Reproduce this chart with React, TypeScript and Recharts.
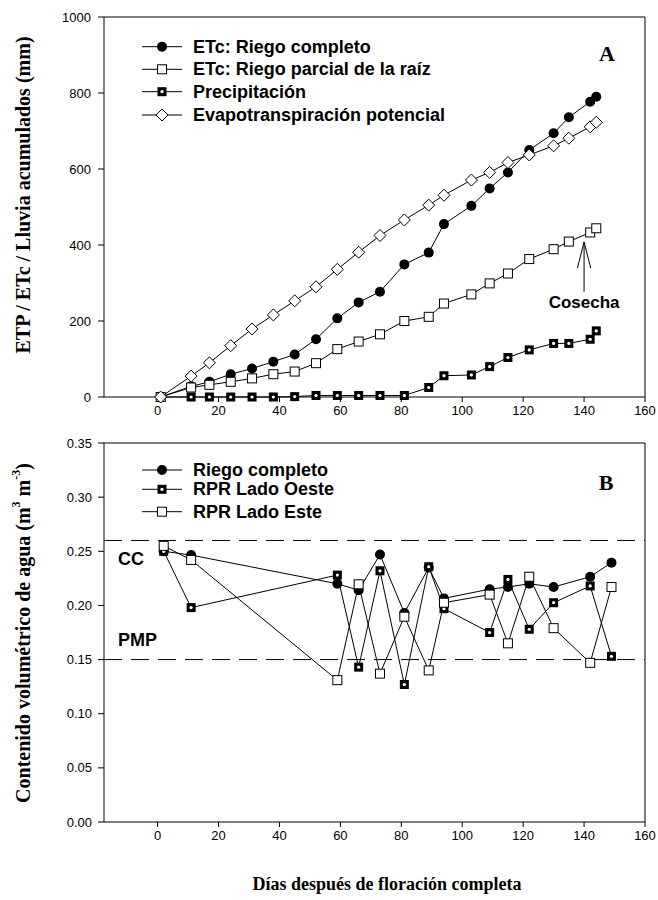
import React from 'react';
import { LineChart, Line, XAxis, YAxis, ReferenceLine, ReferenceDot } from 'recharts';

// Panel A: accumulated ETP / ETc / rain (mm)
const diasA = [1, 11, 17, 24, 31, 38, 45, 52, 59, 66, 73, 81, 89, 94, 103, 109, 115, 122, 130, 135, 142, 144];
const etcCompleto = [0, 28, 40, 60, 75, 93, 112, 152, 207, 249, 277, 349, 380, 455, 503, 549, 591, 650, 694, 736, 777, 790];
const etcParcial = [0, 25, 32, 40, 49, 60, 67, 89, 126, 146, 165, 200, 211, 246, 270, 299, 325, 363, 389, 409, 433, 444];
const precipitacion = [0, 0, 0, 0, 0, 0, 1, 4, 4, 4, 4, 4, 25, 56, 58, 80, 104, 124, 141, 141, 152, 174];
const etp = [0, 55, 90, 135, 179, 216, 253, 290, 336, 381, 425, 466, 505, 531, 571, 591, 617, 637, 661, 681, 711, 723];

// Panel B: soil water content (m3 m-3)
const diasB = [2, 11, 59, 66, 73, 81, 89, 94, 109, 115, 122, 130, 142, 149];
const riegoCompleto = [0.25, 0.2465, 0.22, 0.214, 0.247, 0.193, 0.235, 0.2065, 0.215, 0.217, 0.22, 0.217, 0.2265, 0.2395];
const rprOeste = [0.25, 0.198, 0.228, 0.143, 0.232, 0.127, 0.2357, 0.197, 0.175, 0.224, 0.178, 0.2025, 0.218, 0.153];
const rprEste = [0.255, 0.242, 0.131, 0.2195, 0.137, 0.1896, 0.14, 0.2025, 0.21, 0.165, 0.2265, 0.179, 0.147, 0.217];

const ticksX = [0, 20, 40, 60, 80, 100, 120, 140, 160];
const ticksA = [0, 200, 400, 600, 800, 1000];
const ticksB = [0, 0.05, 0.1, 0.15, 0.2, 0.25, 0.3, 0.35];
const CC = 0.26;
const PMP = 0.15;

const SANS = '"Liberation Sans", Arial, sans-serif';
const SERIF = '"Liberation Serif", "Times New Roman", serif';
const X_DOMAIN = [-17.6, 160];

const dataA = diasA.map((d, i) => ({
  dia: d,
  completo: etcCompleto[i],
  parcial: etcParcial[i],
  precip: precipitacion[i],
  etp: etp[i],
}));

const dataB = diasB.map((d, i) => ({
  dia: d,
  completo: riegoCompleto[i],
  oeste: rprOeste[i],
  este: rprEste[i],
}));

// marker shapes
const circleM = (cx: number, cy: number, k?: any) => <circle key={k} cx={cx} cy={cy} r={5} fill="#000" />;
const squareM = (cx: number, cy: number, k?: any) => (
  <rect key={k} x={cx - 4.5} y={cy - 4.5} width={9} height={9} fill="#fff" stroke="#000" strokeWidth={1} />
);
const diamondM = (cx: number, cy: number, k?: any) => (
  <path key={k} d={`M${cx},${cy - 6}L${cx + 6},${cy}L${cx},${cy + 6}L${cx - 6},${cy}Z`} fill="#fff" stroke="#000" strokeWidth={1} />
);
const rainM = (cx: number, cy: number, k?: any) => (
  <g key={k}>
    <rect x={cx - 4.5} y={cy - 4.5} width={9} height={9} fill="#000" />
    <circle cx={cx} cy={cy} r={1.6} fill="#fff" />
  </g>
);

const dotFn = (m: typeof circleM) => (p: any) => m(p.cx, p.cy, `${p.dataKey}-${p.index}`);

const tickStyle = { fontFamily: SANS, fontSize: 13, fill: '#000' };
const axisLine = { stroke: '#000', strokeWidth: 1 };

const LegendRow = ({ y, marker, label }: { y: number; marker: typeof circleM; label: string }) => (
  <g>
    <line x1={142} x2={182} y1={y} y2={y} stroke="#000" strokeWidth={1} />
    {marker(162, y)}
    <text x={193} y={y} dominantBaseline="central" fontFamily={SANS} fontWeight="bold" fontSize={18} fill="#000">
      {label}
    </text>
  </g>
);

const App: React.FC = () => {
  return (
    <div style={{ position: 'absolute', left: 0, top: 0, width: 658, height: 900, background: '#fff' }}>
      {/* Panel A */}
      <div style={{ position: 'absolute', left: 0, top: 0 }}>
        <LineChart width={658} height={430} data={dataA} margin={{ top: 17, right: 13, left: 0, bottom: 0 }}>
          <XAxis
            dataKey="dia"
            type="number"
            domain={X_DOMAIN}
            ticks={ticksX}
            allowDataOverflow
            height={33}
            tickSize={5}
            tickMargin={4}
            tick={tickStyle}
            axisLine={axisLine}
            tickLine={axisLine}
          />
          <YAxis
            type="number"
            domain={[0, 1000]}
            ticks={ticksA}
            width={104}
            tickSize={6}
            tickMargin={7}
            tick={tickStyle}
            axisLine={axisLine}
            tickLine={axisLine}
          />
          <ReferenceLine y={1000} stroke="#000" />
          <ReferenceLine x={160} stroke="#000" />
          <Line dataKey="precip" stroke="#000" strokeWidth={1} dot={dotFn(rainM)} activeDot={false} isAnimationActive={false} />
          <Line dataKey="completo" stroke="#000" strokeWidth={1} dot={dotFn(circleM)} activeDot={false} isAnimationActive={false} />
          <Line dataKey="parcial" stroke="#000" strokeWidth={1} dot={dotFn(squareM)} activeDot={false} isAnimationActive={false} />
          <Line dataKey="etp" stroke="#000" strokeWidth={1} dot={dotFn(diamondM)} activeDot={false} isAnimationActive={false} />
          {/* harvest arrow */}
          <ReferenceLine segment={[{ x: 140, y: 277 }, { x: 140, y: 408 }]} stroke="#000" />
          <ReferenceLine segment={[{ x: 137.8, y: 339 }, { x: 140, y: 408 }]} stroke="#000" />
          <ReferenceLine segment={[{ x: 142.2, y: 339 }, { x: 140, y: 408 }]} stroke="#000" />
          <ReferenceDot
            x={140}
            y={250}
            r={0}
            shape={(p: any) => (
              <text x={p.cx} y={p.cy} textAnchor="middle" dominantBaseline="central" fontFamily={SANS} fontWeight="bold" fontSize={17} fill="#000">
                Cosecha
              </text>
            )}
          />
        </LineChart>
      </div>

      {/* Panel B */}
      <div style={{ position: 'absolute', left: 0, top: 426 }}>
        <LineChart width={658} height={474} data={dataB} margin={{ top: 17, right: 13, left: 0, bottom: 0 }}>
          <XAxis
            dataKey="dia"
            type="number"
            domain={X_DOMAIN}
            ticks={ticksX}
            allowDataOverflow
            height={78}
            tickSize={5}
            tickMargin={4}
            tick={tickStyle}
            axisLine={axisLine}
            tickLine={axisLine}
          />
          <YAxis
            type="number"
            domain={[0, 0.35]}
            ticks={ticksB}
            width={104}
            tickSize={6}
            tickMargin={6}
            tick={tickStyle}
            tickFormatter={(v: number) => v.toFixed(2)}
            axisLine={axisLine}
            tickLine={axisLine}
          />
          <ReferenceLine y={0.35} stroke="#000" />
          <ReferenceLine x={160} stroke="#000" />
          <ReferenceLine y={CC} stroke="#000" strokeDasharray="18 9" />
          <ReferenceLine y={PMP} stroke="#000" strokeDasharray="18 9" />
          <Line dataKey="completo" stroke="#000" strokeWidth={1} dot={dotFn(circleM)} activeDot={false} isAnimationActive={false} />
          <Line dataKey="oeste" stroke="#000" strokeWidth={1} dot={dotFn(rainM)} activeDot={false} isAnimationActive={false} />
          <Line dataKey="este" stroke="#000" strokeWidth={1} dot={dotFn(squareM)} activeDot={false} isAnimationActive={false} />
        </LineChart>
      </div>

      {/* titles, legends, labels */}
      <svg width={658} height={900} style={{ position: 'absolute', left: 0, top: 0, pointerEvents: 'none' }}>
        <text
          transform="translate(23,195) rotate(-90)"
          textAnchor="middle"
          dominantBaseline="central"
          fontFamily={SERIF}
          fontWeight="bold"
          fontSize={20}
          fill="#000"
        >
          ETP / ETc / Lluvia acumulados (mm)
        </text>
        <text
          transform="translate(23,633) rotate(-90)"
          textAnchor="middle"
          dominantBaseline="central"
          fontFamily={SERIF}
          fontWeight="bold"
          fontSize={20}
          fill="#000"
        >
          Contenido volumétrico de agua (m
          <tspan dy={-7} fontSize={12}>3</tspan>
          <tspan dy={7}> m</tspan>
          <tspan dy={-7} fontSize={12}>-3</tspan>
          <tspan dy={7}>)</tspan>
        </text>
        <text x={387} y={884} textAnchor="middle" dominantBaseline="central" fontFamily={SERIF} fontWeight="bold" fontSize={18} fill="#000">
          Días después de floración completa
        </text>

        <text x={607} y={53} textAnchor="middle" dominantBaseline="central" fontFamily={SERIF} fontWeight="bold" fontSize={22} fill="#000">
          A
        </text>
        <text x={606} y={482} textAnchor="middle" dominantBaseline="central" fontFamily={SERIF} fontWeight="bold" fontSize={22} fill="#000">
          B
        </text>

        <text x={118} y={559} dominantBaseline="central" fontFamily={SANS} fontWeight="bold" fontSize={18} fill="#000">
          CC
        </text>
        <text x={118} y={640} dominantBaseline="central" fontFamily={SANS} fontWeight="bold" fontSize={18} fill="#000">
          PMP
        </text>

        <LegendRow y={46.7} marker={circleM} label="ETc: Riego completo" />
        <LegendRow y={69.3} marker={squareM} label="ETc: Riego parcial de la raíz" />
        <LegendRow y={91.7} marker={rainM} label="Precipitación" />
        <LegendRow y={115} marker={diamondM} label="Evapotranspiración potencial" />

        <LegendRow y={470} marker={circleM} label="Riego completo" />
        <LegendRow y={489.3} marker={rainM} label="RPR Lado Oeste" />
        <LegendRow y={511.7} marker={squareM} label="RPR Lado Este" />
      </svg>
    </div>
  );
};

export default App;
